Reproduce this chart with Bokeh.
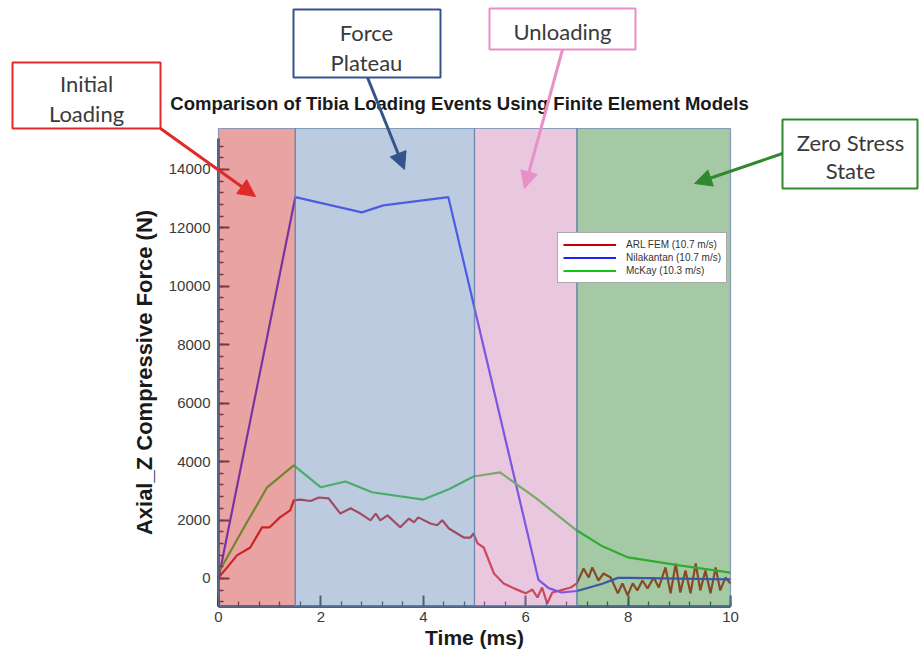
from bokeh.plotting import figure
from bokeh.models import (Range1d, SingleIntervalTicker, Legend, LegendItem, Label,
                          BoxAnnotation, Arrow, NormalHead)
from bokeh.embed import file_html
from bokeh.resources import INLINE

# ---------------- data ----------------
arl_t = [0, 0.17, 0.36, 0.62, 0.85, 1.0, 1.2, 1.4, 1.47, 1.6, 1.8, 1.96, 2.15, 2.38, 2.58,
         2.77, 2.97, 3.07, 3.16, 3.3, 3.55, 3.72, 3.82, 3.9, 4.14, 4.27, 4.37, 4.5, 4.79,
         4.92, 4.98, 5.06, 5.18, 5.38, 5.57, 5.77, 6.0, 6.13, 6.23, 6.32, 6.42, 6.52, 6.68,
         6.88, 7.0, 7.13, 7.23, 7.3, 7.42, 7.52, 7.66, 7.8, 7.89, 7.99, 8.09, 8.18, 8.28,
         8.38, 8.5, 8.6, 8.73, 8.83, 8.93, 9.02, 9.12, 9.22, 9.32, 9.41, 9.51, 9.61, 9.71,
         9.8, 9.9, 10.0]
arl_f = [30, 380, 790, 1060, 1750, 1750, 2090, 2330, 2670, 2700, 2650, 2770, 2740, 2220, 2400,
         2220, 1990, 2220, 1990, 2160, 1750, 2050, 1920, 2090, 1880, 1820, 1990, 1710, 1400,
         1400, 1540, 1200, 1060, 170, -170, -340, -510, -380, -650, -310, -860, -480, -410,
         -310, -170, 340, 30, 380, -70, 170, 30, -510, -170, -580, -170, -410, -70,
         -340, 30, -310, 380, -510, 510, -480, 270, -510, 510, -410, 270, -510, 380,
         -410, 30, -170]

nil_t = [0, 1.5, 2.8, 3.22, 4.49, 6.25, 6.45, 6.7, 7.0, 7.5, 7.8, 8.0, 10.0]
nil_f = [0, 13050, 12530, 12770, 13050, -50, -330, -480, -430, -180, 20, 20, -30]

mck_t = [0, 0.5, 0.95, 1.47, 2.0, 2.48, 3.0, 4.0, 4.5, 4.98, 5.5, 6.2, 7.0, 7.5, 8.0, 9.0, 10.0]
mck_f = [200, 1750, 3120, 3870, 3120, 3320, 2950, 2700, 3050, 3490, 3630, 2750, 1640, 1100,
         720, 450, 200]

series_names = ["ARL FEM (10.7 m/s)", "Nilakantan (10.7 m/s)", "McKay (10.3 m/s)"]
series_colors = ["#c40000", "#2020ff", "#14c414"]

phase_start = [0, 1.5, 5, 7]
phase_end = [1.5, 5, 7, 10]
phase_fill = ["#d14745", "#7997c1", "#d38fbf", "#4b9349"]
phase_lines = [["Initial", "Loading"], ["Force", "Plateau"], ["Unloading"], ["Zero Stress", "State"]]
phase_edge = ["#e02a2a", "#34558c", "#e890c8", "#2f8a2f"]

x_tick_interval = 2
y_tick_interval = 2000
X0, X1 = 0, 10          # data extent of the chart area
Y0, Y1 = -960, 15400
Y_AXIS_TOP = 15050

title_text = "Comparison of Tibia Loading Events Using Finite Element Models"
x_label = "Time (ms)"
y_label = "Axial_Z Compressive Force (N)"

# ---------------- layout ----------------
W, H = 919, 650
FL, FR, FT, FB = 218, 730, 128, 606   # chart area edges in canvas px
sx = (X1 - X0) / (FR - FL)
sy = (Y1 - Y0) / (FB - FT)

# frame spans the whole canvas so that the call-outs are not clipped
p = figure(width=W, height=H,
           x_range=Range1d(X0 - FL * sx, X1 + (W - FR) * sx),
           y_range=Range1d(Y0 - (H - FB) * sy, Y1 + FT * sy),
           output_backend="svg", toolbar_location=None,
           min_border_left=0, min_border_right=0, min_border_top=0, min_border_bottom=0)
p.outline_line_color = None
p.xgrid.visible = False
p.ygrid.visible = False
p.background_fill_color = "white"
p.border_fill_color = "white"


def dx(cx):
    return X0 + (cx - FL) * sx


def dy(cy):
    return Y0 + (FB - cy) * sy


# axes drawn at the chart-area edges
xax = p.xaxis[0]
yax = p.yaxis[0]
xax.fixed_location = Y0
yax.fixed_location = X0
xax.bounds = (X0, X1)
yax.bounds = (Y0, Y_AXIS_TOP)
xax.ticker = SingleIntervalTicker(interval=x_tick_interval, num_minor_ticks=5)
yax.ticker = SingleIntervalTicker(interval=y_tick_interval, num_minor_ticks=5)
for ax in (xax, yax):
    ax.major_tick_in = 11
    ax.major_tick_out = 0
    ax.minor_tick_in = 5
    ax.minor_tick_out = 0
    ax.axis_line_color = "#1f2a3a"
    ax.axis_line_width = 2.5
    ax.major_tick_line_color = "#1f2a3a"
    ax.major_tick_line_width = 2
    ax.minor_tick_line_color = "#1f2a3a"
    ax.minor_tick_line_width = 1.3
    ax.major_label_text_font = "Liberation Sans"
    ax.major_label_text_font_size = "15px"
    ax.major_label_text_color = "#3a3a3a"
    ax.axis_label_text_font = "Liberation Sans"
    ax.axis_label_text_font_style = "bold"
    ax.axis_label_text_color = "#1a1a1a"
xax.major_label_standoff = 5
yax.major_label_standoff = 8
yax.axis_label = y_label
yax.axis_label_text_font_size = "22px"
yax.axis_label_standoff = 9
xax.axis_label = x_label
xax.axis_label_text_font_size = "21px"
xax.axis_label_standoff = 1

# series
r_arl = p.line(arl_t, arl_f, line_color=series_colors[0], line_width=2.2)
r_nil = p.line(nil_t, nil_f, line_color=series_colors[1], line_width=2.2)
r_mck = p.line(mck_t, mck_f, line_color=series_colors[2], line_width=2.2)

legend = Legend(items=[LegendItem(label=series_names[0], renderers=[r_arl]),
                       LegendItem(label=series_names[1], renderers=[r_nil]),
                       LegendItem(label=series_names[2], renderers=[r_mck])],
                location=(557, H - 283), margin=0, padding=5, spacing=0,
                glyph_width=53, glyph_height=13, label_height=13, label_standoff=10,
                label_text_font="Liberation Sans", label_text_font_size="10px",
                label_text_color="#333333",
                border_line_color="#555555", border_line_width=1,
                background_fill_color="white", background_fill_alpha=1.0)
p.add_layout(legend)

# translucent phase shading drawn over the curves and legend
q = p.quad(left=phase_start, right=phase_end, bottom=Y0, top=Y1,
           fill_color=phase_fill, fill_alpha=0.5,
           line_color="#5f7fa8", line_alpha=0.7, line_width=1.2)
q.level = "overlay"

# title
p.renderers.append(Label(x=dx(459), y=dy(103), text=title_text, text_align="center",
                         text_baseline="middle", text_font="Liberation Sans",
                         text_font_style="bold", text_font_size="18.5px",
                         text_color="#1a1a1a", level="overlay"))

# call-out boxes: (left, right, top, bottom, text x, text ys, arrow tail, arrow tip) in px
callouts = [
    (12, 160, 62, 128, 86, [83, 113], (160, 128), (255, 196)),
    (293, 440, 9, 77, 366, [32, 62], (367, 77), (404, 169)),
    (489, 635, 8, 49, 562, [31], (562, 49), (524, 188)),
    (782, 917, 119, 188, 850, [142, 170], (782, 153), (694, 183)),
]
for i, (l, r, t, b, tx, tys, tail, tip) in enumerate(callouts):
    col = phase_edge[i]
    p.renderers.append(Arrow(x_start=dx(tail[0]), y_start=dy(tail[1]),
                             x_end=dx(tip[0]), y_end=dy(tip[1]),
                             line_color=col, line_width=3,
                             end=NormalHead(size=17, fill_color=col, line_color=col),
                             level="overlay"))
    p.renderers.append(BoxAnnotation(left=dx(l), right=dx(r), top=dy(t), bottom=dy(b),
                                     fill_color="white", fill_alpha=1.0,
                                     line_color=col, line_width=2, line_alpha=1.0,
                                     level="overlay"))
    for line_text, ty in zip(phase_lines[i], tys):
        p.renderers.append(Label(x=dx(tx), y=dy(ty), text=line_text, text_align="center",
                                 text_baseline="middle", text_font="Lato",
                                 text_font_size="22px", text_color="#3a3a3a",
                                 level="overlay"))

open("out.html", "w").write(file_html(p, INLINE))
